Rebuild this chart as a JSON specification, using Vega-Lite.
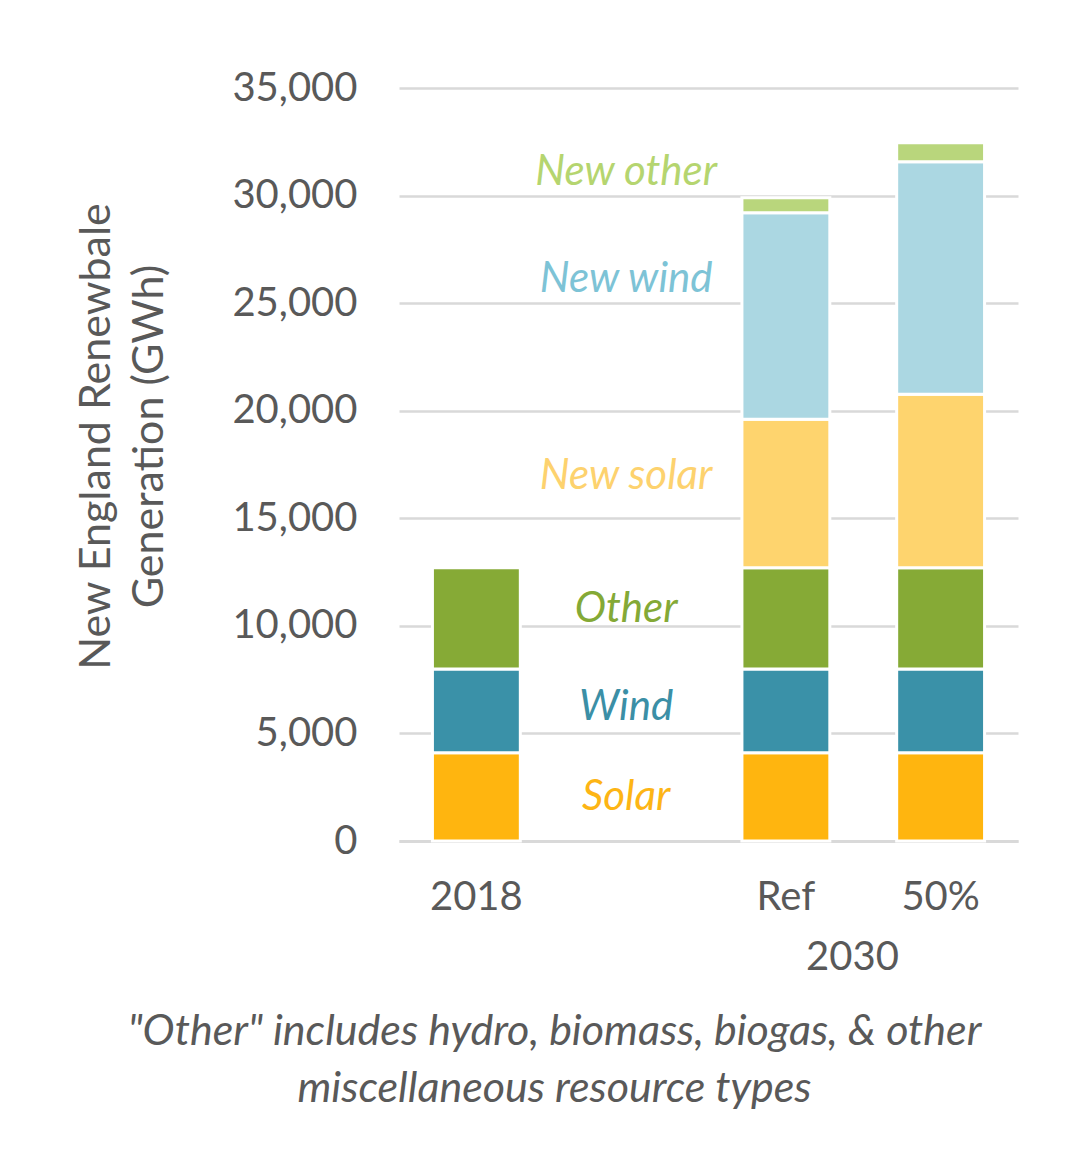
{
  "$schema": "https://vega.github.io/schema/vega-lite/v6.json",
  "width": 619,
  "height": 753,
  "autosize": {"type": "none"},
  "padding": {"left": 399, "top": 88, "right": 64, "bottom": 311},
  "background": "white",
  "config": {
    "view": {"stroke": null},
    "font": "Lato",
    "text": {"font": "Lato"}
  },
  "title": {
    "text": ["\"Other\" includes hydro, biomass, biogas, & other", "miscellaneous resource types"],
    "orient": "bottom",
    "frame": "bounds",
    "anchor": "middle",
    "font": "Lato",
    "fontSize": 43,
    "fontStyle": "italic",
    "fontWeight": "normal",
    "color": "#595959",
    "lineHeight": 57,
    "offset": 34,
    "dx": 8
  },
  "datasets": {
    "bars": [
      {"category": "2018", "series": "Solar", "value": 4100},
      {"category": "2018", "series": "Wind", "value": 3900},
      {"category": "2018", "series": "Other", "value": 4700},
      {"category": "Ref", "series": "Solar", "value": 4100},
      {"category": "Ref", "series": "Wind", "value": 3900},
      {"category": "Ref", "series": "Other", "value": 4700},
      {"category": "Ref", "series": "New solar", "value": 6900},
      {"category": "Ref", "series": "New wind", "value": 9600},
      {"category": "Ref", "series": "New other", "value": 700},
      {"category": "50%", "series": "Solar", "value": 4100},
      {"category": "50%", "series": "Wind", "value": 3900},
      {"category": "50%", "series": "Other", "value": 4700},
      {"category": "50%", "series": "New solar", "value": 8070},
      {"category": "50%", "series": "New wind", "value": 10800},
      {"category": "50%", "series": "New other", "value": 880}
    ],
    "labels": [
      {"category": " ", "series": "Solar", "position": 2050},
      {"category": " ", "series": "Wind", "position": 6230},
      {"category": " ", "series": "Other", "position": 10800},
      {"category": " ", "series": "New solar", "position": 16980},
      {"category": " ", "series": "New wind", "position": 26100},
      {"category": " ", "series": "New other", "position": 31100}
    ]
  },
  "layer": [
    {
      "data": {"name": "bars"},
      "transform": [
        {"calculate": "indexof(['Solar', 'Wind', 'Other', 'New solar', 'New wind', 'New other'], datum.series)", "as": "stackOrder"}
      ],
      "mark": {"type": "bar", "stroke": "white", "strokeWidth": 3},
      "encoding": {
        "x": {
          "field": "category",
          "type": "nominal",
          "scale": {"domain": ["2018", " ", "Ref", "50%"], "paddingInner": 0.432, "paddingOuter": 0.216},
          "axis": {
            "labelAngle": 0,
            "labelFontSize": 40,
            "labelColor": "#595959",
            "labelPadding": 36,
            "ticks": false,
            "domain": true,
            "domainColor": "#D9D9D9",
            "domainWidth": 3,
            "title": "2030",
            "titleFontSize": 40,
            "titleFontWeight": "normal",
            "titleColor": "#595959",
            "titleX": 453,
            "titleY": 116,
            "titleBaseline": "middle",
            "titleAlign": "center"
          }
        },
        "y": {
          "field": "value",
          "type": "quantitative",
          "stack": "zero",
          "scale": {"domain": [0, 35000]},
          "axis": {
            "values": [0, 5000, 10000, 15000, 20000, 25000, 30000, 35000],
            "format": ",.0f",
            "grid": true,
            "gridColor": "#D9D9D9",
            "gridWidth": 2.5,
            "domain": false,
            "ticks": false,
            "labelFontSize": 40,
            "labelColor": "#595959",
            "labelPadding": 42,
            "title": ["New England Renewbale", "Generation (GWh)"],
            "titleFontSize": 43,
            "titleFontWeight": "normal",
            "titleColor": "#595959",
            "titleLineHeight": 53,
            "titleX": -303,
            "titleY": 348,
            "titleBaseline": "middle",
            "titleAlign": "center"
          }
        },
        "color": {
          "field": "series",
          "type": "nominal",
          "scale": {
            "domain": ["Solar", "Wind", "Other", "New solar", "New wind", "New other"],
            "range": ["#FFB50F", "#3A91A8", "#86AA36", "#FED46E", "#ABD7E2", "#B9D67C"]
          },
          "legend": null
        },
        "order": {"field": "stackOrder", "type": "quantitative", "sort": "ascending"}
      }
    },
    {
      "data": {"name": "labels"},
      "mark": {"type": "text", "fontSize": 42, "fontStyle": "italic", "align": "center", "baseline": "middle", "dx": -5},
      "encoding": {
        "x": {"field": "category", "type": "nominal"},
        "y": {"field": "position", "type": "quantitative"},
        "text": {"field": "series"},
        "color": {
          "field": "series",
          "type": "nominal",
          "scale": {
            "domain": ["Solar", "Wind", "Other", "New solar", "New wind", "New other"],
            "range": ["#FDB515", "#3B8FA6", "#84A936", "#FDD26E", "#7DC3D6", "#B5D56F"]
          },
          "legend": null
        }
      }
    }
  ],
  "resolve": {"scale": {"color": "independent"}}
}
